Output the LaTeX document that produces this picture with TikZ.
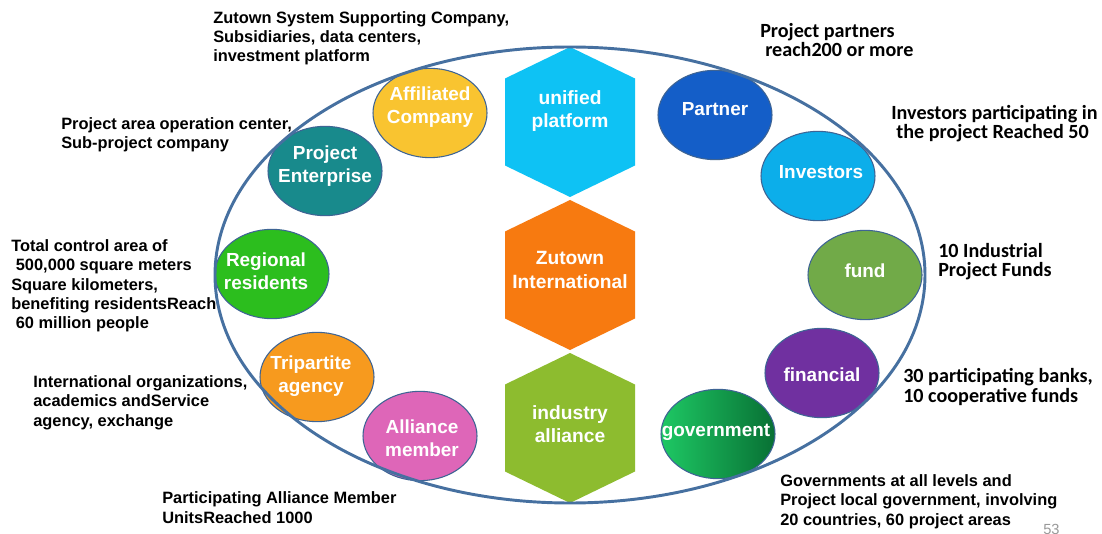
\documentclass[tikz,border=0pt]{standalone}
\usepackage{fontspec}
\setmainfont{Liberation Sans}
\newfontfamily\calib{Carlito}
\usetikzlibrary{shapes.geometric}
\definecolor{ringblue}{RGB}{70,112,160}
\definecolor{bubline}{RGB}{62,100,148}
\definecolor{hexcyan}{RGB}{14,194,244}
\definecolor{hexorange}{RGB}{247,122,16}
\definecolor{hexgreen}{RGB}{141,188,47}
\definecolor{cyellow}{RGB}{249,196,48}
\definecolor{cteal}{RGB}{24,138,140}
\definecolor{cgreen}{RGB}{44,190,30}
\definecolor{corange}{RGB}{247,154,30}
\definecolor{cpink}{RGB}{222,102,184}
\definecolor{cblue}{RGB}{20,94,200}
\definecolor{clightblue}{RGB}{12,174,234}
\definecolor{cfund}{RGB}{113,170,72}
\definecolor{cpurple}{RGB}{112,48,160}
\definecolor{govlight}{RGB}{30,200,100}
\definecolor{govdark}{RGB}{8,112,52}
\begin{document}
\begin{tikzpicture}[x=0.75pt,y=-0.75pt,
  bub/.style={ellipse, draw=bubline, line width=0.8pt, minimum width=85.5pt, minimum height=67pt, inner sep=0pt},
  bubtext/.style={text=white, font=\bfseries\fontsize{14.2}{17}\selectfont, align=center, inner sep=0pt},
  hextext/.style={text=white, font=\bfseries\fontsize{14.4}{17.5}\selectfont, align=center, inner sep=0pt},
  lab/.style={anchor=base west, inner sep=0pt, align=left, font=\bfseries\fontsize{12.3}{14.6}\selectfont},
  labc/.style={anchor=base west, inner sep=0pt, align=left, font=\calib\bfseries\fontsize{15.1}{14.4}\selectfont},
]
\useasboundingbox (0,0) rectangle (1102,534);
\fill[white] (0,0) rectangle (1102,534);

% hexagons
\fill[hexcyan, shift={(570,122)}] (0,-75) -- (65,-43.5) -- (65,43.5) -- (0,75) -- (-65,43.5) -- (-65,-43.5) -- cycle;
\fill[hexorange, shift={(570,275)}] (0,-75) -- (65,-43.5) -- (65,43.5) -- (0,75) -- (-65,43.5) -- (-65,-43.5) -- cycle;
\fill[hexgreen, shift={(570,428)}] (0,-75) -- (65,-43.5) -- (65,43.5) -- (0,75) -- (-65,43.5) -- (-65,-43.5) -- cycle;
\node[hextext] (unified) at (570,111) {unified\\platform};
\node[hextext] (zutown) at (570,270) {Zutown\\International};
\node[hextext] (industry) at (570,424) {industry\\alliance};

% bubbles left
\node[bub, fill=cyellow] (aff) at (430,113) {};
\node[bubtext] at (430,107) {Affiliated\\Company};
\node[bub, fill=cteal] (proj) at (325,171) {};
\node[bubtext] at (325,166) {Project\\Enterprise};
\node[bub, fill=cgreen] (reg) at (272,274) {};
\node[bubtext] at (266,271) {Regional\\residents};
\node[bub, fill=corange] (tri) at (317,377) {};
\node[bubtext] at (311,376) {Tripartite\\agency};
\node[bub, fill=cpink] (all) at (420,436) {};
\node[bubtext] at (422,438) {Alliance\\member};

% bubbles right
\node[bub, fill=cblue] (partner) at (715,115) {};
\node[bubtext] at (715,109) {Partner};
\node[bub, fill=clightblue] (inv) at (818,176) {};
\node[bubtext] at (821,172) {Investors};
\node[bub, fill=cfund] (fund) at (865,275) {};
\node[bubtext] at (865,271) {fund};
\node[bub, fill=cpurple] (fin) at (822,373) {};
\node[bubtext] at (822,375) {financial};
\node[bub, left color=govlight, right color=govdark] (gov) at (718,434) {};
\node[bubtext] at (716,432) {government};

% big ring
\node[ellipse, draw=ringblue, line width=2.2pt, minimum width=532.5pt, minimum height=342pt, inner sep=0pt] (ring) at (570,275) {};

% labels (anchored at the baseline of their last line)
\node[lab] (l1) at (213,62) {Zutown System Supporting Company,\\Subsidiaries, data centers,\\investment platform};
\node[lab] (l2) at (61,149) {Project area operation center,\\Sub-project company};
\node[lab] (l3) at (11,329) {Total control area of\\\hspace*{0.28em}500,000 square meters\\Square kilometers,\\benefiting residentsReach\\\hspace*{0.28em}60 million people};
\node[lab] (l4) at (33,426) {International organizations,\\academics andService\\agency, exchange};
\node[lab] (l5) at (162,523) {Participating Alliance Member\\UnitsReached 1000};
\node[lab] (l6) at (780,525) {Governments at all levels and\\Project local government, involving\\20 countries, 60 project areas};

\node[labc] (r1) at (760,57) {Project partners\\\hspace*{0.25em}reach200 or more};
\node[labc] (r2) at (891,139) {Investors participating in\\\hspace*{0.25em}the project Reached 50};
\node[labc] (r3) at (938,277) {10 Industrial\\Project Funds};
\node[labc] (r4) at (903,402) {30 participating banks,\\10 cooperative funds};

\node[anchor=north west, inner sep=0pt, text=gray!80, font=\fontsize{11}{13}\selectfont] (pg) at (1043,524) {53};
\end{tikzpicture}
\end{document}
